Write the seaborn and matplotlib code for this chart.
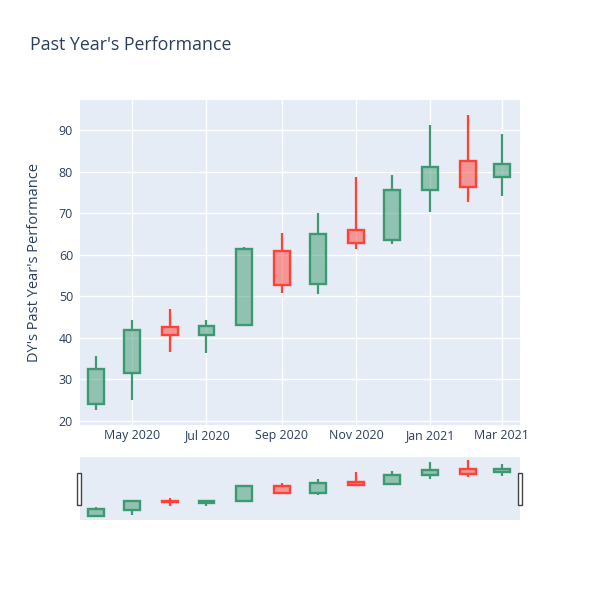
import matplotlib
matplotlib.use("Agg")
import matplotlib.pyplot as plt
import matplotlib.patches as mpatches
import seaborn as sns
import pandas as pd
import numpy as np

# monthly OHLC
months = pd.date_range("2020-04-01", "2021-03-01", freq="MS")
open_ = [24.0, 31.5, 42.6, 40.7, 43.2, 61.0, 52.9, 66.0, 63.6, 75.5, 82.5, 78.8]
high = [35.7, 44.2, 46.9, 44.2, 61.9, 65.2, 70.0, 78.7, 79.3, 91.2, 93.6, 89.2]
low = [22.6, 25.1, 36.5, 36.3, 42.8, 50.9, 50.5, 61.4, 62.6, 70.4, 72.7, 74.1]
close = [32.5, 42.0, 40.8, 42.8, 61.4, 52.7, 64.9, 62.8, 75.5, 81.1, 76.3, 81.9]

y_ticks = [20, 30, 40, 50, 60, 70, 80, 90]
x_ticks = pd.date_range("2020-05-01", "2021-03-01", freq="2MS")
x_tick_labels = [d.strftime("%b %Y") for d in x_ticks]

INC = "#3D9970"
DEC = "#FF4136"
BG = "#E5ECF6"
TXT = "#2a3f5f"

sns.set_style("darkgrid", {"axes.facecolor": BG, "grid.color": "white"})
plt.rcParams["font.family"] = ["Open Sans", "DejaVu Sans"]

df = pd.DataFrame({"date": months, "open": open_, "high": high, "low": low, "close": close})
df["up"] = df["close"] >= df["open"]
df["top"] = df[["open", "close"]].max(axis=1)
df["bot"] = df[["open", "close"]].min(axis=1)
df["color"] = np.where(df["up"], INC, DEC)

fig = plt.figure(figsize=(6, 6), dpi=100)
ax = fig.add_axes([80 / 600, 1 - 425 / 600, 440 / 600, 325 / 600])
ax_rs = fig.add_axes([80 / 600, 1 - 520 / 600, 440 / 600, 63 / 600])

x_lo, x_hi = pd.Timestamp("2020-03-19"), pd.Timestamp("2021-03-16")
width = pd.Timedelta(days=13)


def draw_candles(a):
    for _, r in df.iterrows():
        a.vlines(r["date"], r["top"], r["high"], color=r["color"], lw=1.6, zorder=2)
        a.vlines(r["date"], r["low"], r["bot"], color=r["color"], lw=1.6, zorder=2)
        a.bar(r["date"], r["top"] - r["bot"], bottom=r["bot"], width=width,
              facecolor=matplotlib.colors.to_rgba(r["color"], 0.5),
              edgecolor=r["color"], lw=1.7, zorder=3)
    a.set_xlim(x_lo, x_hi)
    a.set_ylim(19.0, 97.3)
    for s in a.spines.values():
        s.set_visible(False)


draw_candles(ax)
ax.set_yticks(y_ticks)
ax.set_xticks(x_ticks)
ax.set_xticklabels(x_tick_labels)
ax.tick_params(length=0, labelsize=8.9, colors=TXT)
ax.tick_params(axis="x", pad=3)
ax.tick_params(axis="y", pad=5)
ax.grid(True, color="white", lw=1)
ax.set_xlabel("")

draw_candles(ax_rs)
ax_rs.grid(False)
ax_rs.set_xticks([])
ax_rs.set_yticks([])

# range slider handles
for hx in (77, 518):
    fig.add_artist(mpatches.Rectangle((hx / 600, 1 - 505 / 600), 4 / 600, 32 / 600,
                                      transform=fig.transFigure, facecolor="white",
                                      edgecolor="#444444", lw=1))

fig.text(30 / 600, 1 - 45 / 600, "Past Year's Performance", fontsize=12.8, color=TXT, va="center")
fig.text(35 / 600, 1 - 262 / 600, "DY's Past Year's Performance", fontsize=10.5, color=TXT,
         rotation=90, va="center", ha="center")

fig.savefig("out.png", dpi=100)
